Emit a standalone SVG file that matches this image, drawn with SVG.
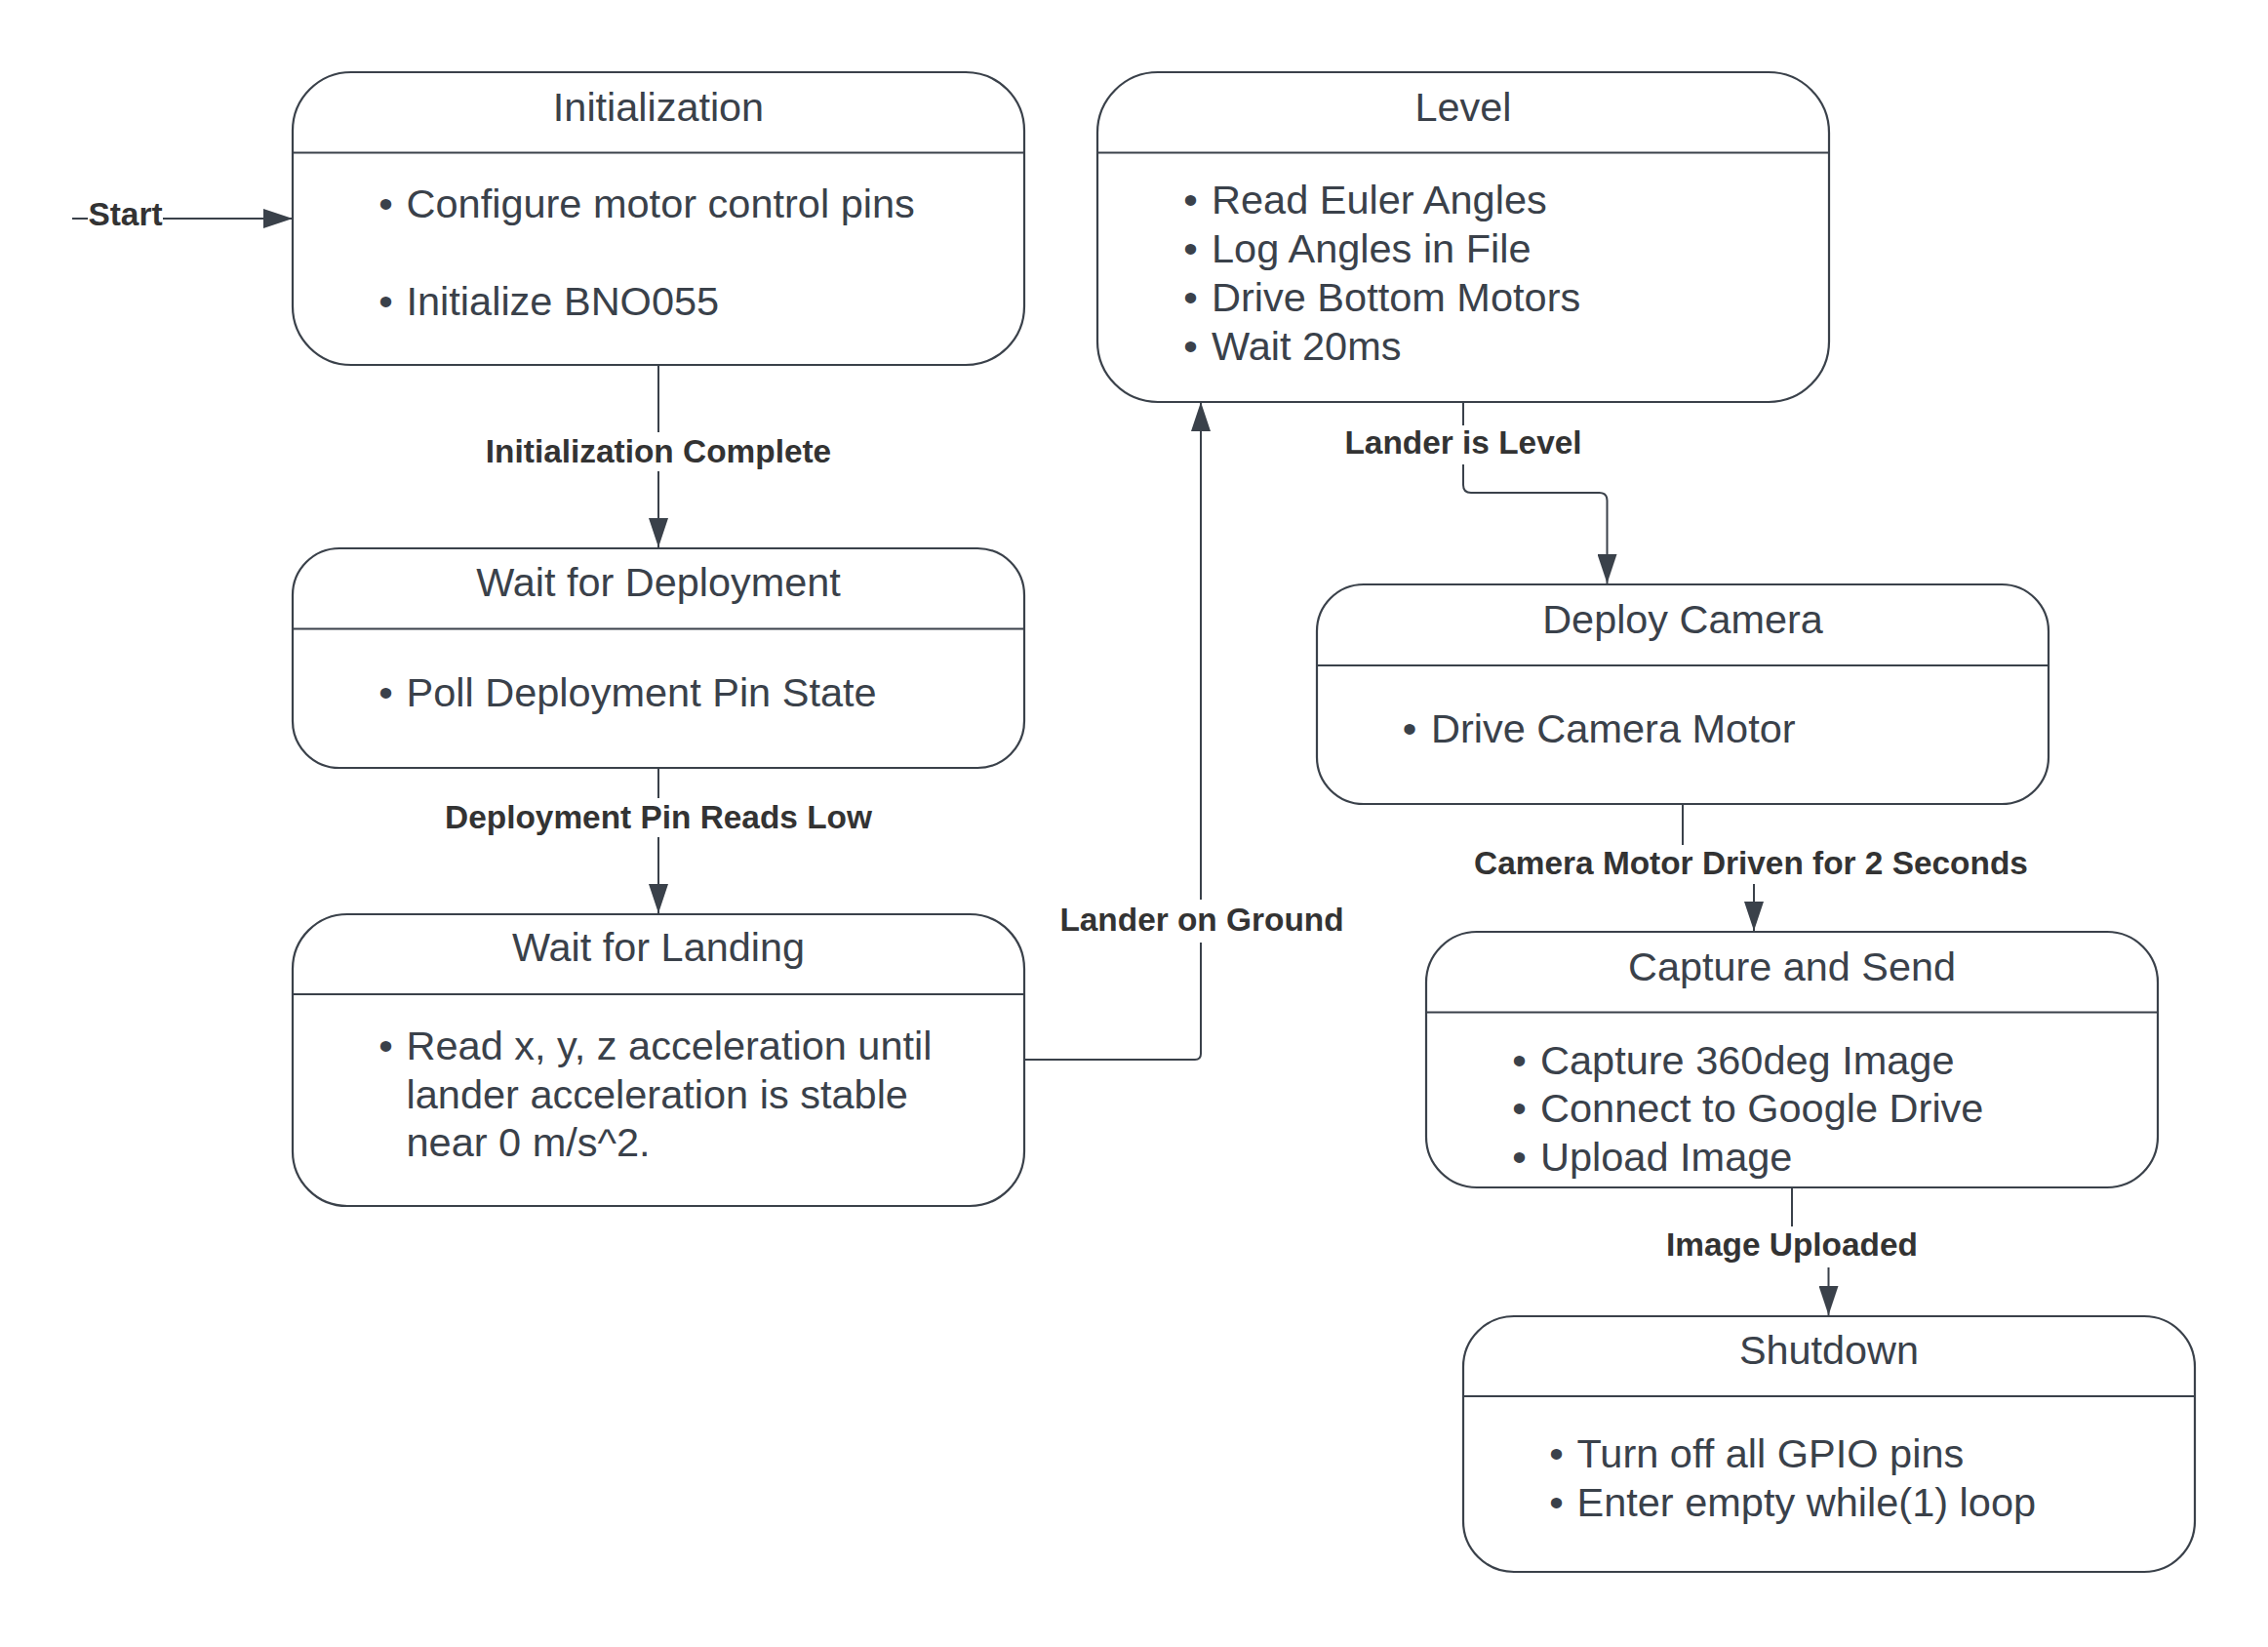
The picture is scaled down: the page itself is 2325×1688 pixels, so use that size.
<svg xmlns="http://www.w3.org/2000/svg" width="2325" height="1688" viewBox="0 0 2325 1688">
<style>
.box{fill:#ffffff;stroke:#3a414a;stroke-width:2.2}
.div{stroke:#3a414a;stroke-width:2.2}
.title{font-family:"Liberation Sans",Arial,sans-serif;font-size:41.4px;fill:#3a414a;text-anchor:middle}
.body{font-family:"Liberation Sans",Arial,sans-serif;font-size:41.5px;fill:#3a414a}
.dot{font-family:"Liberation Sans",Arial,sans-serif;font-size:41.5px;fill:#3a414a;text-anchor:middle}
.edge{fill:none;stroke:#3a414a;stroke-width:2}
.lbl{font-family:"Liberation Sans",Arial,sans-serif;font-size:33.4px;font-weight:bold;fill:#333333;text-anchor:middle}
.bg{fill:#ffffff}
</style>
<defs>
<marker id="arr" markerUnits="userSpaceOnUse" markerWidth="30" markerHeight="20" refX="30" refY="10" orient="auto">
<path d="M0,0 L30,10 L0,20 Z" fill="#3a414a"/>
</marker>
</defs>
<rect width="2325" height="1688" fill="#ffffff"/>

<g id="connectors">
<path class="edge" d="M74,224 H300" marker-end="url(#arr)"/>
<path class="edge" d="M675,374 V561" marker-end="url(#arr)"/>
<path class="edge" d="M675,787 V936" marker-end="url(#arr)"/>
<path class="edge" d="M1050,1086 H1225 Q1231,1086 1231,1080 V412" marker-end="url(#arr)"/>
<path class="edge" d="M1500,412 V497 Q1500,505 1508,505 H1639.5 Q1647.5,505 1647.5,513 V598" marker-end="url(#arr)"/>
<path class="edge" d="M1725,824 V880 Q1725,886 1731,886 H1792 Q1798,886 1798,892 V954" marker-end="url(#arr)"/>
<path class="edge" d="M1837,1218 V1276 Q1837,1282 1843,1282 H1868.5 Q1874.5,1282 1874.5,1288 V1348" marker-end="url(#arr)"/>
<rect class="bg" x="90" y="204" width="77" height="34"/>
<text class="lbl" x="128.5" y="231">Start</text>
<rect class="bg" x="496" y="443" width="358" height="40"/>
<text class="lbl" x="675" y="474">Initialization Complete</text>
<rect class="bg" x="455" y="818" width="440" height="40"/>
<text class="lbl" x="675" y="849">Deployment Pin Reads Low</text>
<rect class="bg" x="1085" y="922" width="294" height="44"/>
<text class="lbl" x="1232" y="954">Lander on Ground</text>
<rect class="bg" x="1377" y="436" width="246" height="40"/>
<text class="lbl" x="1500" y="465">Lander is Level</text>
<rect class="bg" x="1509" y="866" width="572" height="40"/>
<text class="lbl" x="1795" y="896">Camera Motor Driven for 2 Seconds</text>
<rect class="bg" x="1706" y="1257" width="262" height="42"/>
<text class="lbl" x="1837" y="1287">Image Uploaded</text>
</g>

<g id="initialization">
<rect class="box" x="300" y="74" width="750" height="300" rx="60" ry="60"/>
<line class="div" x1="300" y1="156.5" x2="1050" y2="156.5"/>
<text class="title" x="675" y="124">Initialization</text>
<text class="dot" x="395.5" y="223">•</text>
<text class="body" x="416.5" y="223">Configure motor control pins</text>
<text class="dot" x="395.5" y="323">•</text>
<text class="body" x="416.5" y="323">Initialize BNO055</text>
</g>

<g id="wait-for-deployment">
<rect class="box" x="300" y="562" width="750" height="225" rx="48" ry="48"/>
<line class="div" x1="300" y1="644.5" x2="1050" y2="644.5"/>
<text class="title" x="675" y="611">Wait for Deployment</text>
<text class="dot" x="395.5" y="724">•</text>
<text class="body" x="416.5" y="724">Poll Deployment Pin State</text>
</g>

<g id="wait-for-landing">
<rect class="box" x="300" y="937" width="750" height="299" rx="56" ry="56"/>
<line class="div" x1="300" y1="1019" x2="1050" y2="1019"/>
<text class="title" x="675" y="985">Wait for Landing</text>
<text class="dot" x="395.5" y="1086">•</text>
<text class="body" x="416.5" y="1086">Read x, y, z acceleration until</text>
<text class="body" x="416.5" y="1136">lander acceleration is stable</text>
<text class="body" x="416.5" y="1185">near 0 m/s^2.</text>
</g>

<g id="level">
<rect class="box" x="1125" y="74" width="750" height="338" rx="62" ry="62"/>
<line class="div" x1="1125" y1="156.5" x2="1875" y2="156.5"/>
<text class="title" x="1500" y="124">Level</text>
<text class="dot" x="1220.5" y="219">•</text>
<text class="body" x="1242" y="219">Read Euler Angles</text>
<text class="dot" x="1220.5" y="269">•</text>
<text class="body" x="1242" y="269">Log Angles in File</text>
<text class="dot" x="1220.5" y="319">•</text>
<text class="body" x="1242" y="319">Drive Bottom Motors</text>
<text class="dot" x="1220.5" y="369">•</text>
<text class="body" x="1242" y="369">Wait 20ms</text>
</g>

<g id="deploy-camera">
<rect class="box" x="1350" y="599" width="750" height="225" rx="48" ry="48"/>
<line class="div" x1="1350" y1="682" x2="2100" y2="682"/>
<text class="title" x="1725" y="649">Deploy Camera</text>
<text class="dot" x="1445" y="761">•</text>
<text class="body" x="1467" y="761">Drive Camera Motor</text>
</g>

<g id="capture-and-send">
<rect class="box" x="1462" y="955" width="750" height="262" rx="52" ry="52"/>
<line class="div" x1="1462" y1="1037.5" x2="2212" y2="1037.5"/>
<text class="title" x="1837" y="1005">Capture and Send</text>
<text class="dot" x="1557.5" y="1101">•</text>
<text class="body" x="1579" y="1101">Capture 360deg Image</text>
<text class="dot" x="1557.5" y="1150">•</text>
<text class="body" x="1579" y="1150">Connect to Google Drive</text>
<text class="dot" x="1557.5" y="1200">•</text>
<text class="body" x="1579" y="1200">Upload Image</text>
</g>

<g id="shutdown">
<rect class="box" x="1500" y="1349" width="750" height="262" rx="52" ry="52"/>
<line class="div" x1="1500" y1="1431" x2="2250" y2="1431"/>
<text class="title" x="1875" y="1398">Shutdown</text>
<text class="dot" x="1595.5" y="1504">•</text>
<text class="body" x="1616.5" y="1504">Turn off all GPIO pins</text>
<text class="dot" x="1595.5" y="1554">•</text>
<text class="body" x="1616.5" y="1554">Enter empty while(1) loop</text>
</g>
</svg>
